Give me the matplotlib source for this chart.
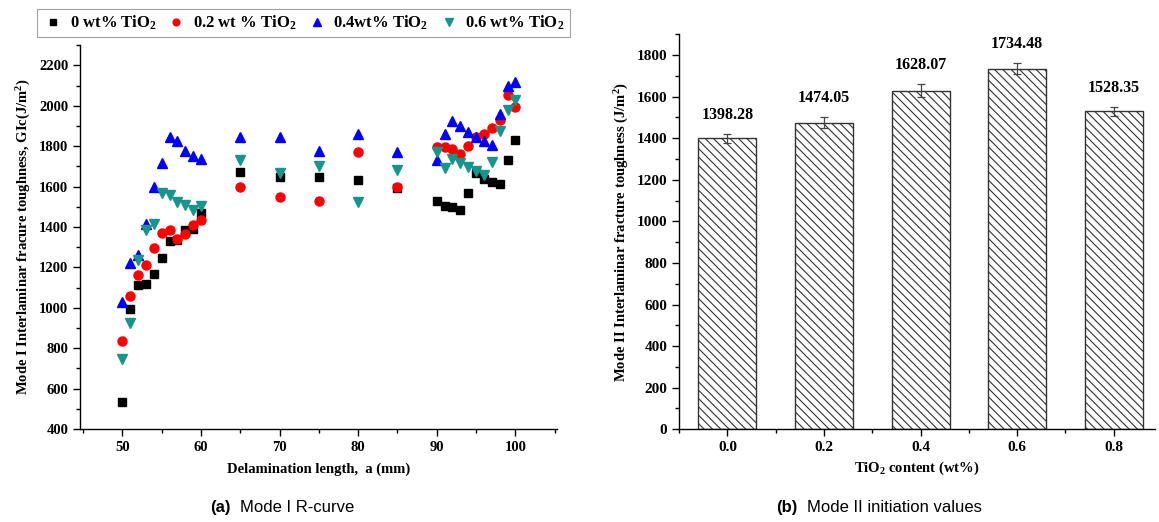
import numpy as np
import matplotlib
matplotlib.use('Agg')
import matplotlib.pyplot as plt
from matplotlib.ticker import MultipleLocator

params = {'font.family': 'Liberation Serif',
          'font.weight': 'bold',
          'mathtext.fontset': 'custom',
          'mathtext.rm': 'Liberation Serif:bold',
          'mathtext.it': 'Liberation Serif:bold',
          'mathtext.bf': 'Liberation Serif:bold',
          'axes.linewidth': 1.0,
          'hatch.linewidth': 0.8,
          'hatch.color': '#666666'}
plt.rcParams.update(params)

# ---- (a) Mode I R-curve data ----
a_mm = [50, 51, 52, 53, 54, 55, 56, 57, 58, 59, 60, 65, 70, 75, 80, 85,
        90, 91, 92, 93, 94, 95, 96, 97, 98, 99, 100]
g_0wt = [535, 995, 1113, 1120, 1166, 1248, 1330, 1338, 1384, 1392, 1469, 1674, 1646, 1649, 1633, 1595,
         1531, 1503, 1498, 1485, 1567, 1666, 1636, 1624, 1613, 1731, 1831]
g_02wt = [834, 1059, 1162, 1212, 1297, 1371, 1384, 1343, 1367, 1408, 1433, 1597, 1548, 1531, 1772, 1597,
          1797, 1797, 1785, 1761, 1802, 1843, 1859, 1889, 1928, 2053, 1994]
g_04wt = [1031, 1223, 1261, 1417, 1600, 1715, 1843, 1826, 1777, 1753, 1736, 1846, 1846, 1777, 1862, 1769,
          1731, 1859, 1925, 1900, 1872, 1846, 1826, 1807, 1961, 2100, 2117]
g_06wt = [748, 925, 1236, 1384, 1417, 1567, 1556, 1526, 1507, 1482, 1502, 1731, 1666, 1703, 1523, 1683,
          1769, 1690, 1736, 1715, 1699, 1679, 1659, 1720, 1876, 1977, 2026]

# ---- (b) Mode II initiation data ----
tio2 = [0.0, 0.2, 0.4, 0.6, 0.8]
tio2_labels = ['0.0', '0.2', '0.4', '0.6', '0.8']
g2 = [1398.28, 1474.05, 1628.07, 1734.48, 1528.35]
g2_err = [20, 27, 30, 27, 21]

fig = plt.figure(figsize=(11.59, 5.22), dpi=100)

# left panel
ax1 = fig.add_axes([0.069, 0.178, 0.4116, 0.7356])
s0, = ax1.plot(a_mm, g_0wt, 's', color='black', ms=6, ls='none')
s1, = ax1.plot(a_mm, g_02wt, 'o', color='#FF0000', ms=6.5, ls='none')
s2, = ax1.plot(a_mm, g_04wt, '^', color='#0000FF', ms=7.5, ls='none')
s3, = ax1.plot(a_mm, g_06wt, 'v', color='#17958D', ms=7.5, ls='none')
ax1.set_xlim(44.6, 105.3)
ax1.set_ylim(400, 2300)
ax1.xaxis.set_major_locator(MultipleLocator(10))
ax1.xaxis.set_minor_locator(MultipleLocator(5))
ax1.yaxis.set_major_locator(MultipleLocator(200))
ax1.yaxis.set_minor_locator(MultipleLocator(100))
ax1.set_xlabel('Delamination length,  a (mm)', fontsize=10.5, fontweight='bold', labelpad=6)
ax1.set_ylabel('Mode I Interlaminar fracure toughness, GIc(J/m$^2$)', fontsize=10.5,
               fontweight='bold', labelpad=4)

# right panel
ax2 = fig.add_axes([0.586, 0.1776, 0.4104, 0.757])
ax2.bar(tio2, g2, width=0.12, color='white', edgecolor='#333333', linewidth=1.0,
        hatch='\\\\\\\\', zorder=2)
ax2.errorbar(tio2, g2, yerr=g2_err, fmt='none', ecolor='#444444', elinewidth=0.9,
             capsize=3, capthick=0.9, zorder=3)
for x, v, e in zip(tio2, g2, g2_err):
    ax2.text(x, v + e + 55, f'{v:.2f}', ha='center', va='bottom', fontsize=11.5,
             fontweight='bold')
ax2.set_xlim(-0.1, 0.885)
ax2.set_ylim(0, 1900)
ax2.set_xticks(tio2)
ax2.set_xticklabels(tio2_labels)
ax2.xaxis.set_minor_locator(MultipleLocator(0.1))
ax2.yaxis.set_major_locator(MultipleLocator(200))
ax2.yaxis.set_minor_locator(MultipleLocator(100))
ax2.set_xlabel('TiO$_2$ content (wt%)', fontsize=10.5, fontweight='bold', labelpad=4)
ax2.set_ylabel('Mode II Interlaminar fracture toughness (J/m$^2$)', fontsize=10.5,
               fontweight='bold', labelpad=4)

for ax, fs in [(ax1, 10.5), (ax2, 11)]:
    ax.spines['top'].set_visible(False)
    ax.spines['right'].set_visible(False)
    ax.tick_params(which='major', direction='out', length=5, width=1, labelsize=fs)
    ax.tick_params(which='minor', direction='out', length=3, width=1)
    for lab in ax.get_xticklabels() + ax.get_yticklabels():
        lab.set_fontweight('bold')

leg = fig.legend([s0, s1, s2, s3],
                 ['0 wt% TiO$_2$', '0.2 wt % TiO$_2$', '0.4wt% TiO$_2$', '0.6 wt% TiO$_2$'],
                 loc='upper left', bbox_to_anchor=(37 / 1159, 1 - 9 / 522), ncol=4,
                 frameon=True, fancybox=False, edgecolor='#888888', fontsize=12,
                 borderaxespad=0, columnspacing=0.55, handletextpad=0.35,
                 handlelength=1.3, borderpad=0.3, markerscale=0.75)
leg.get_frame().set_linewidth(0.8)

# captions
fig.text(210 / 1159, 0.027, '(a)', fontfamily='Liberation Sans', fontweight='bold',
         fontsize=12, ha='left', va='center')
fig.text(240 / 1159, 0.027, 'Mode I R-curve', fontfamily='Liberation Sans',
         fontweight='normal', fontsize=12, ha='left', va='center')
fig.text(776 / 1159, 0.027, '(b)', fontfamily='Liberation Sans', fontweight='bold',
         fontsize=12, ha='left', va='center')
fig.text(807 / 1159, 0.027, 'Mode II initiation values', fontfamily='Liberation Sans',
         fontweight='normal', fontsize=12, ha='left', va='center')

fig.savefig('out.png', dpi=100)
